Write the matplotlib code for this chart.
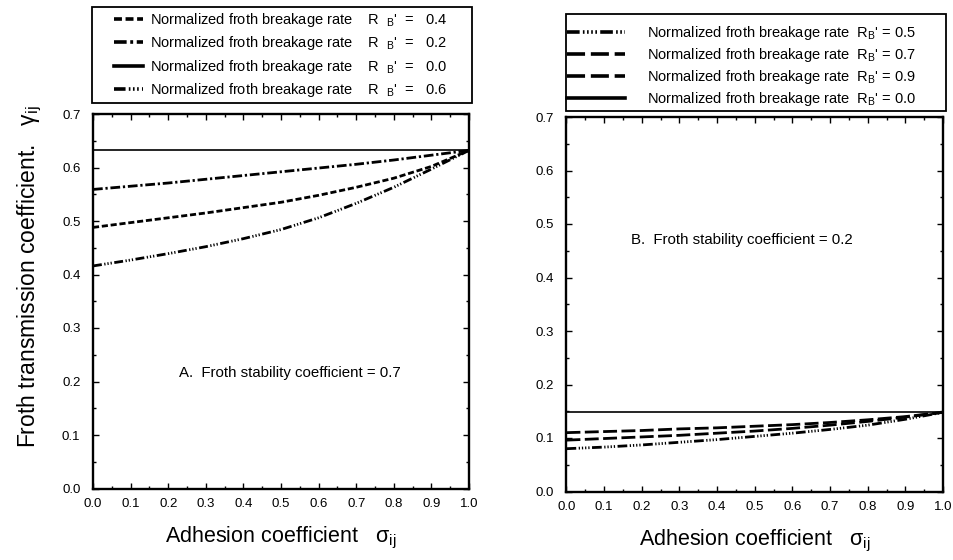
import matplotlib
matplotlib.use("Agg")
import matplotlib.pyplot as plt
from matplotlib.lines import Line2D
from matplotlib.patches import Rectangle
from matplotlib.ticker import MultipleLocator

plt.rcParams['font.family'] = ['Liberation Sans', 'DejaVu Sans']
plt.rcParams['mathtext.fontset'] = 'custom'
plt.rcParams['mathtext.rm'] = 'Liberation Sans'
plt.rcParams['mathtext.it'] = 'Liberation Sans'
plt.rcParams['mathtext.default'] = 'regular'

# ---- data ----
sigma = [0.0, 0.1, 0.2, 0.3, 0.4, 0.5, 0.6, 0.7, 0.8, 0.9, 1.0]

# Panel A (froth stability 0.7)
a_r04 = [0.488, 0.497, 0.506, 0.515, 0.525, 0.535, 0.548, 0.563, 0.580, 0.602, 0.632]
a_r02 = [0.559, 0.565, 0.571, 0.578, 0.585, 0.592, 0.599, 0.606, 0.614, 0.623, 0.632]
a_r00 = [0.632] * 11
a_r06 = [0.416, 0.427, 0.439, 0.452, 0.467, 0.484, 0.506, 0.533, 0.563, 0.597, 0.632]

# Panel B (froth stability 0.2)
b_r05 = [0.080, 0.083, 0.087, 0.092, 0.097, 0.103, 0.109, 0.116, 0.124, 0.135, 0.148]
b_r07 = [0.096, 0.099, 0.102, 0.105, 0.109, 0.113, 0.118, 0.124, 0.131, 0.139, 0.148]
b_r09 = [0.110, 0.112, 0.114, 0.117, 0.119, 0.122, 0.125, 0.129, 0.134, 0.140, 0.148]
b_r00 = [0.148] * 11

labels_a = ["Normalized froth breakage rate    R  $_{B}$'  =   0.4",
            "Normalized froth breakage rate    R  $_{B}$'  =   0.2",
            "Normalized froth breakage rate    R  $_{B}$'  =   0.0",
            "Normalized froth breakage rate    R  $_{B}$'  =   0.6"]
labels_b = ["Normalized froth breakage rate  R$_{B}$' = 0.5",
            "Normalized froth breakage rate  R$_{B}$' = 0.7",
            "Normalized froth breakage rate  R$_{B}$' = 0.9",
            "Normalized froth breakage rate  R$_{B}$' = 0.0"]

xticks = [0.0, 0.1, 0.2, 0.3, 0.4, 0.5, 0.6, 0.7, 0.8, 0.9, 1.0]
yticks = [0.0, 0.1, 0.2, 0.3, 0.4, 0.5, 0.6, 0.7]

# styles
st_a04 = (0, (2.2, 1.0))
st_a02 = (0, (3.5, 1.0, 0.8, 1.0))
st_a06 = (0, (3.2, 0.9, 0.45, 0.7, 0.45, 0.7, 0.45, 0.9))
st_b05 = (0, (3.5, 0.9, 0.45, 0.7, 0.45, 0.7, 0.45, 0.7, 0.45, 0.9))
st_b07 = (0, (5.0, 1.6))
st_b09 = (0, (5.0, 1.6))

W, H = 954, 560
fig = plt.figure(figsize=(W / 100, H / 100), dpi=100)

def fbox(x0, y0, x1, y1):
    return [x0 / W, 1 - y1 / H, (x1 - x0) / W, (y1 - y0) / H]

axA = fig.add_axes(fbox(93, 114, 469, 488.5))
axB = fig.add_axes(fbox(566.5, 117, 943, 491.5))

lw = 2.0
axA.plot(sigma, a_r04, color='black', lw=lw, linestyle=st_a04)
axA.plot(sigma, a_r02, color='black', lw=lw, linestyle=st_a02)
axA.plot(sigma, a_r00, color='black', lw=1.2, linestyle='-')
axA.plot(sigma, a_r06, color='black', lw=lw, linestyle=st_a06)

axB.plot(sigma, b_r05, color='black', lw=lw, linestyle=st_b05)
axB.plot(sigma, b_r07, color='black', lw=lw, linestyle=st_b07)
axB.plot(sigma, b_r09, color='black', lw=lw, linestyle=st_b09)
axB.plot(sigma, b_r00, color='black', lw=1.2, linestyle='-')

for ax in (axA, axB):
    ax.set_xlim(0, 1.0)
    ax.set_ylim(0, 0.7)
    ax.set_xticks(xticks)
    ax.set_yticks(yticks)
    ax.set_xticklabels([f"{v:.1f}" for v in xticks])
    ax.set_yticklabels([f"{v:.1f}" for v in yticks])
    ax.xaxis.set_minor_locator(MultipleLocator(0.05))
    ax.yaxis.set_minor_locator(MultipleLocator(0.05))
    ax.tick_params(which='both', direction='in', top=True, right=True,
                   width=1.0, labelsize=9.5, colors='black')
    ax.tick_params(which='major', length=4.5)
    ax.tick_params(axis='x', which='major', pad=7)
    ax.tick_params(axis='y', which='major', pad=9)
    ax.tick_params(which='minor', length=2.5)
    for s in ax.spines.values():
        s.set_linewidth(1.7)
    ax.set_xlabel(r"Adhesion coefficient   $\sigma_{ij}$", fontsize=15.5)
    ax.xaxis.set_label_coords(0.5, -0.097)

axA.set_ylabel(r"Froth transmission coefficient.   $\gamma_{ij}$", fontsize=16.5)
axA.yaxis.set_label_coords(-0.13, 0.565)

axA.text(0.524, 0.215, "A.  Froth stability coefficient = 0.7", fontsize=10.8,
         ha='center', va='center', transform=axA.transData)
axB.text(0.465, 0.47, "B.  Froth stability coefficient = 0.2", fontsize=10.8,
         ha='center', va='center', transform=axB.transData)

# legend frames
for (x0, y0, x1, y1) in [(92, 7, 472, 103), (566, 14, 946, 111)]:
    r = Rectangle((x0 / W, 1 - y1 / H), (x1 - x0) / W, (y1 - y0) / H,
                  transform=fig.transFigure, fill=False, edgecolor='black', lw=1.3)
    fig.add_artist(r)

hl = 2.6
handles_a = [Line2D([], [], color='black', lw=hl, linestyle=st_a04),
             Line2D([], [], color='black', lw=hl, linestyle=st_a02),
             Line2D([], [], color='black', lw=hl, linestyle='-'),
             Line2D([], [], color='black', lw=hl, linestyle=st_a06)]
handles_b = [Line2D([], [], color='black', lw=hl, linestyle=st_b05),
             Line2D([], [], color='black', lw=hl, linestyle=st_b07),
             Line2D([], [], color='black', lw=hl, linestyle=st_b09),
             Line2D([], [], color='black', lw=hl, linestyle='-')]

fig.legend(handles_a, labels_a, loc='center left',
           bbox_to_anchor=(114 / W, 1 - 55 / H), frameon=False, fontsize=10.5,
           handlelength=2.0, handletextpad=0.5, labelspacing=0.38, borderpad=0,
           borderaxespad=0)
fig.legend(handles_b, labels_b, loc='center left',
           bbox_to_anchor=(567 / W, 1 - 66 / H), frameon=False, fontsize=10.5,
           handlelength=4.0, handletextpad=1.5, labelspacing=0.27, borderpad=0,
           borderaxespad=0)

fig.savefig("out.png", dpi=100)
